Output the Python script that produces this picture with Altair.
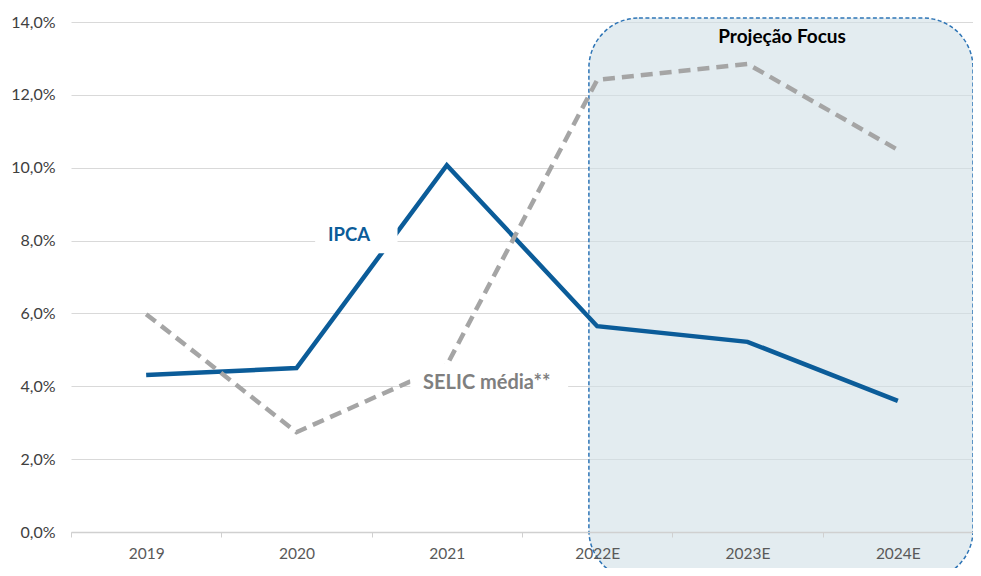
import json
import altair as alt
import pandas as pd

categories = ["2019", "2020", "2021", "2022E", "2023E", "2024E"]
ipca = [4.31, 4.50, 10.07, 5.65, 5.22, 3.60]
selic = [5.98, 2.74, 4.58, 12.41, 12.85, 10.49]

y_ticks = [0, 2, 4, 6, 8, 10, 12, 14]
x_bounds = [-0.5, 0.5, 1.5, 2.5, 3.5, 4.5, 5.5]

# Annotation region "Projeção Focus" (data coordinates)
focus_x = [2.945, 5.5]
focus_y = [14.11, -1.32]

# White boxes behind series labels (data coordinates)
box_x = [1.124, 1.672, 1.757, 2.807]
box_y = [7.65, 8.51, 3.62, 4.61]

label_text = ["IPCA", "SELIC média**", "Projeção Focus"]
label_x = [1.35, 2.266, 4.23]
label_y = [8.16, 4.09, 13.59]
label_color = ["#0B5C99", "#7F7F7F", "#000000"]
label_size = [18.5, 20, 19]

FONT = "Lato"
W, H = 902, 510
idx = list(range(len(categories)))

lines_df = pd.DataFrame({"x": idx, "cat": categories, "ipca": ipca, "selic": selic})
focus_df = pd.DataFrame({"x": [focus_x[0]], "x2": [focus_x[1]], "y": [focus_y[0]], "y2": [focus_y[1]]})
box_df = pd.DataFrame({
    "x": [box_x[0], box_x[2]], "x2": [box_x[1], box_x[3]],
    "y": [box_y[0], box_y[2]], "y2": [box_y[1], box_y[3]],
})
lab_df = pd.DataFrame({"x": label_x, "y": label_y, "t": label_text,
                       "c": label_color, "s": label_size})

cat_js = json.dumps(categories)
x_axis = alt.Axis(
    values=x_bounds,
    labelExpr=f"datum.value < 5 ? {cat_js}[round(datum.value + 0.5)] : ''",
    labelOffset=W / 12, labelOverlap=False, labelFlush=False, labelBound=False,
    tickSize=5, tickColor="#D0D0D0", domainColor="#D0D0D0", domainWidth=1.5,
    grid=False, title=None, labelPadding=9, labelFont=FONT, labelFontSize=15.5,
    labelColor="#595959", zindex=1,
)
y_axis = alt.Axis(
    values=y_ticks,
    labelExpr="replace(format(datum.value, '.1f'), '.', ',') + '%'",
    grid=True, gridColor="#D9D9D9", gridWidth=1.2, ticks=False, domain=False,
    labelPadding=16, title=None, labelFont=FONT, labelFontSize=16,
    labelColor="#404040",
)
xs = alt.Scale(domain=[-0.5, 5.5], nice=False, zero=False)
ys = alt.Scale(domain=[0, 14], nice=False, zero=False)


def X(f="x"):
    return alt.X(f"{f}:Q", scale=xs, axis=x_axis)


def Y(f):
    return alt.Y(f"{f}:Q", scale=ys, axis=y_axis)


focus = alt.Chart(focus_df).mark_rect(
    fill="#D0DFE6", fillOpacity=0.6, stroke="#2E75B6", strokeWidth=1.5,
    strokeDash=[4, 2.5], cornerRadius=50,
).encode(x=X(), x2="x2:Q", y=Y("y"), y2="y2:Q")

ipca_line = alt.Chart(lines_df).mark_line(
    color="#0B5C99", strokeWidth=4.5, strokeCap="butt"
).encode(x=X(), y=Y("ipca"))

selic_line = alt.Chart(lines_df).mark_line(
    color="#A5A5A5", strokeWidth=4.5, strokeDash=[12, 7], strokeCap="butt"
).encode(x=X(), y=Y("selic"))

boxes = alt.Chart(box_df).mark_rect(fill="white", opacity=1).encode(
    x=X(), x2="x2:Q", y=Y("y"), y2="y2:Q"
)

labels = alt.Chart(lab_df).mark_text(
    font=FONT, fontWeight="bold", align="center", baseline="middle"
).encode(
    x=X(), y=Y("y"), text="t:N",
    color=alt.Color("c:N", scale=None), size=alt.Size("s:Q", scale=None),
)

chart = alt.layer(focus, ipca_line, selic_line, boxes, labels).properties(
    width=W, height=H,
    autosize=alt.AutoSizeParams(type="none"),
    padding={"left": 63, "top": 14, "right": 0, "bottom": 36},
    background="white",
).configure_view(stroke=None)

chart.save("out.html", embed_options={"renderer": "svg", "actions": False})
